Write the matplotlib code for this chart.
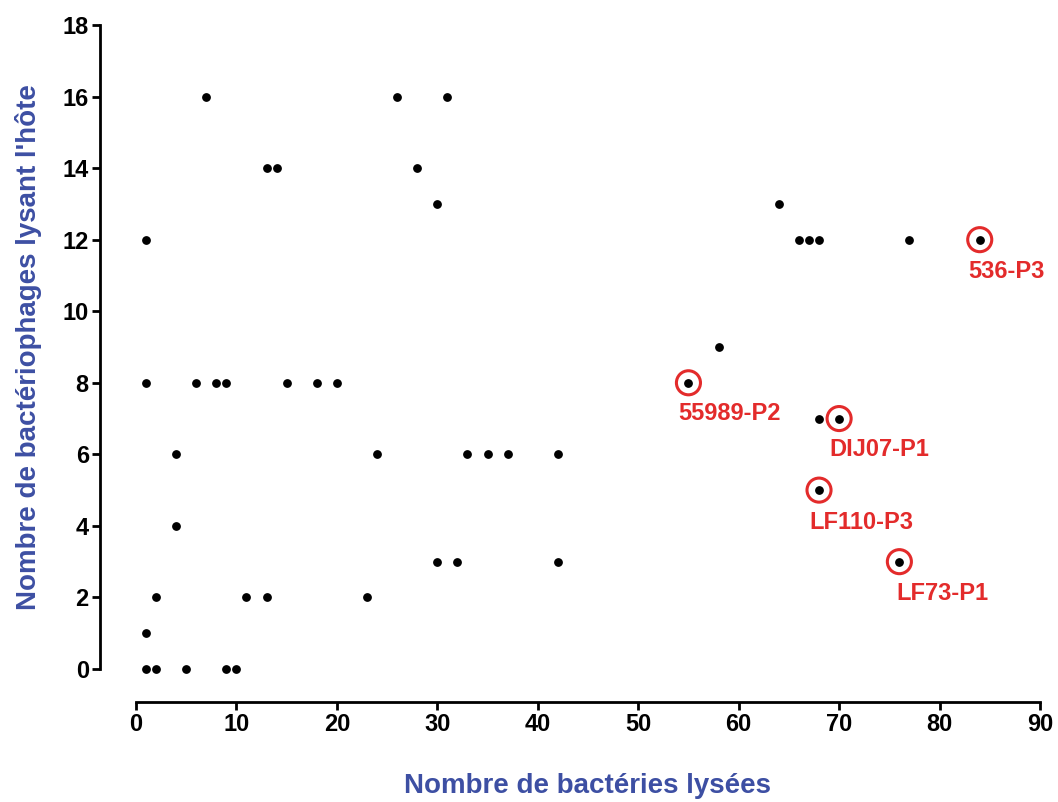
import matplotlib.pyplot as plt

plt.rcParams['font.family'] = ['Liberation Sans', 'DejaVu Sans']

# bacteria lysed (x) vs phages lysing the host (y)
x_vals = [7, 26, 31,
          13, 14, 28,
          30, 64,
          1, 66, 67, 68, 77, 84,
          58,
          1, 6, 8, 9, 15, 18, 20, 55,
          68, 70,
          4, 24, 33, 35, 37, 42,
          68,
          4,
          30, 32, 42, 76,
          2, 11, 13, 23,
          1,
          1, 2, 5, 9, 10]
y_vals = [16, 16, 16,
          14, 14, 14,
          13, 13,
          12, 12, 12, 12, 12, 12,
          9,
          8, 8, 8, 8, 8, 8, 8, 8,
          7, 7,
          6, 6, 6, 6, 6, 6,
          5,
          4,
          3, 3, 3, 3,
          2, 2, 2, 2,
          1,
          0, 0, 0, 0, 0]

# highlighted phages
hl_names = ['536-P3', '55989-P2', 'DIJ07-P1', 'LF110-P3', 'LF73-P1']
hl_x = [84, 55, 70, 68, 76]
hl_y = [12, 8, 7, 5, 3]

fig = plt.figure(figsize=(10.58, 8.02), dpi=100)
ax = fig.add_axes([136 / 1058, 1 - 669 / 802, (1040 - 136) / 1058, (669 - 25) / 802])

ax.scatter(x_vals, y_vals, s=28, color='black', zorder=3, clip_on=False)
ax.scatter(hl_x, hl_y, s=300, facecolors='none', edgecolors='#e32b2b',
           linewidths=2.2, zorder=4, clip_on=False)

red = '#e32b2b'
offsets = [(-8, -15), (-7, -14), (-7, -14), (-7, -15), (-2, -15)]
for name, xx, yy, off in zip(hl_names, hl_x, hl_y, offsets):
    ax.annotate(name, (xx, yy), xytext=off, textcoords='offset points',
                ha='left', va='top', color=red, fontsize=17, fontweight='bold')

ax.set_xlim(0, 90)
ax.set_ylim(0, 18)
ax.set_xticks(range(0, 91, 10))
ax.set_yticks(range(0, 19, 2))

for side in ['top', 'right']:
    ax.spines[side].set_visible(False)
ax.spines['left'].set_position(('outward', 26))
ax.spines['bottom'].set_position(('outward', 24))
for side in ['left', 'bottom']:
    ax.spines[side].set_linewidth(2)

ax.tick_params(width=2, length=6, labelsize=17, pad=2)
for lbl in ax.get_xticklabels() + ax.get_yticklabels():
    lbl.set_fontweight('bold')

blue = '#3d4fa3'
ax.set_xlabel('Nombre de bactéries lysées', fontsize=20, fontweight='bold',
              color=blue, labelpad=26)
ax.set_ylabel("Nombre de bactériophages lysant l'hôte", fontsize=20,
              fontweight='bold', color=blue, labelpad=15)

fig.savefig('out.png', dpi=100)
